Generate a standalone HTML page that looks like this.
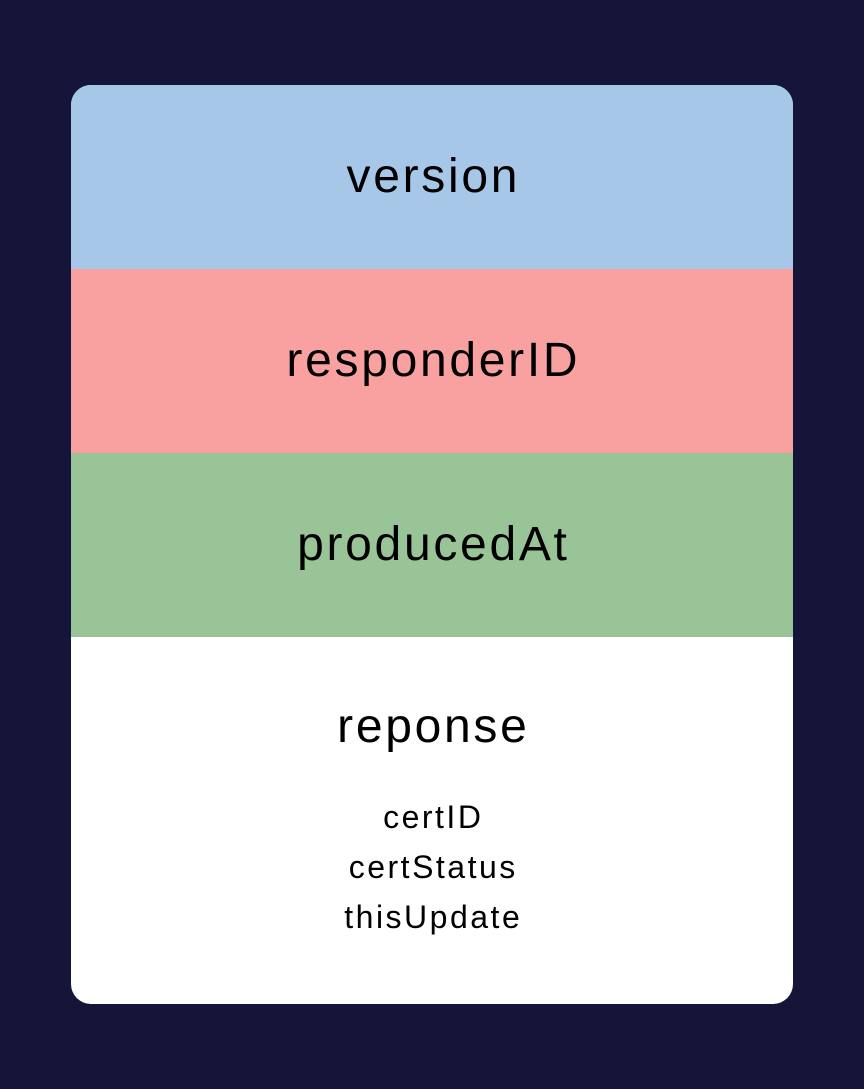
<!DOCTYPE html>
<html><head><style>
html,body{margin:0;padding:0}
body{width:864px;height:1089px;background:#141539;position:relative;font-family:"Liberation Sans",sans-serif;color:#000}
.card{position:absolute;left:71px;top:85px;width:722px;height:919px;border-radius:20px;overflow:hidden;background:#fff}
.s{position:absolute;left:0;width:722px;text-align:center;font-size:48px;letter-spacing:2.7px;text-indent:2.7px}
.t{position:absolute;left:0;width:722px;text-align:center;font-size:32px;letter-spacing:2.5px;text-indent:2.5px}
</style></head><body>
<div class="card">
<div style="position:absolute;left:0;top:0;width:722px;height:184px;background:#a7c7e8"></div>
<div style="position:absolute;left:0;top:184px;width:722px;height:184px;background:#f8a1a0"></div>
<div style="position:absolute;left:0;top:368px;width:722px;height:184px;background:#98c497"></div>
<div class="s" style="top:64px">version</div>
<div class="s" style="top:248px">responderID</div>
<div class="s" style="top:432px">producedAt</div>
<div class="s" style="top:614px">reponse</div>
<div class="t" style="top:714px">certID</div>
<div class="t" style="top:764px">certStatus</div>
<div class="t" style="top:814px">thisUpdate</div>
</div>
</body></html>
